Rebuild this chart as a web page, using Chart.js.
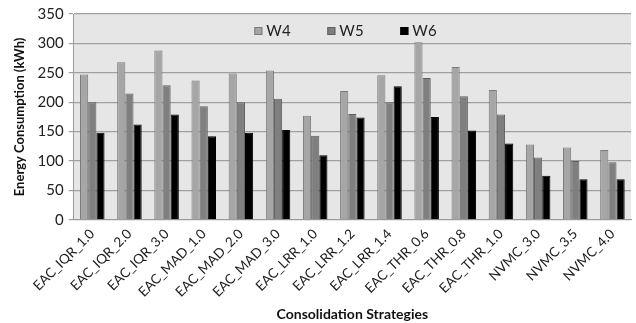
<!DOCTYPE html>
<html>
<head>
<meta charset="utf-8">
<script src="https://cdn.jsdelivr.net/npm/chart.js@4/dist/chart.umd.min.js"></script>
<style>
  html, body { margin: 0; padding: 0; background: #ffffff; }
  #wrap { width: 636px; height: 323px; }
</style>
</head>
<body>
<div id="wrap"><canvas id="c"></canvas></div>
<script>
const categories = [
  "EAC_IQR_1.0", "EAC_IQR_2.0", "EAC_IQR_3.0",
  "EAC_MAD_1.0", "EAC_MAD_2.0", "EAC_MAD_3.0",
  "EAC_LRR_1.0", "EAC_LRR_1.2", "EAC_LRR_1.4",
  "EAC_THR_0.6", "EAC_THR_0.8", "EAC_THR_1.0",
  "NVMC_3.0", "NVMC_3.5", "NVMC_4.0"
];
const w4 = [247, 268, 288, 237, 249, 254, 177, 219, 246, 302, 260, 221, 128, 123, 119];
const w5 = [200, 215, 229, 193, 200, 206, 143, 180, 200, 241, 210, 179, 106, 100, 98];
const w6 = [148, 162, 179, 142, 148, 153, 110, 174, 227, 175, 152, 130, 75, 69, 69];
const yTicks = [0, 50, 100, 150, 200, 250, 300, 350];

const font = "Lato, 'Open Sans', 'Liberation Sans', sans-serif";

// grey panel behind the plot area
const plotBackground = {
  id: 'plotBackground',
  beforeDraw(chart) {
    const { ctx, chartArea: a } = chart;
    ctx.save();
    ctx.fillStyle = '#e6e6e6';
    ctx.fillRect(a.left, a.top, a.right - a.left, a.bottom - a.top);
    ctx.restore();
  }
};

// horizontal legend drawn inside the top band of the plot
const insideLegend = {
  id: 'insideLegend',
  afterDatasetsDraw(chart) {
    const { ctx, chartArea: a } = chart;
    const sets = chart.data.datasets;
    const step = 73;
    const startX = (a.left + a.right) / 2 - 98;
    const cy = a.top + 17;
    ctx.save();
    ctx.font = '15px ' + font;
    ctx.textBaseline = 'middle';
    sets.forEach((ds, i) => {
      const x = startX + i * step;
      ctx.fillStyle = ds.backgroundColor;
      ctx.fillRect(x, cy - 4, 8, 8);
      ctx.strokeStyle = ds.borderColor;
      ctx.lineWidth = 1;
      ctx.strokeRect(x + 0.5, cy - 3.5, 7, 7);
      ctx.fillStyle = '#222';
      ctx.fillText(ds.label, x + 12, cy + 0.5);
    });
    ctx.restore();
  }
};

new Chart(document.getElementById('c'), {
  type: 'bar',
  data: {
    labels: categories,
    datasets: [
      { label: 'W4', data: w4, backgroundColor: '#a6a6a6', borderColor: '#7a7a7a', borderWidth: 1 },
      { label: 'W5', data: w5, backgroundColor: '#7f7f7f', borderColor: '#606060', borderWidth: 1 },
      { label: 'W6', data: w6, backgroundColor: '#000000', borderColor: '#000000', borderWidth: 1 }
    ]
  },
  options: {
    responsive: true,
    maintainAspectRatio: false,
    animation: false,
    layout: { padding: { top: 6, right: 5, left: 12, bottom: 0 } },
    datasets: { bar: { categoryPercentage: 0.66, barPercentage: 1.0 } },
    plugins: {
      legend: { display: false },
      tooltip: { enabled: false }
    },
    scales: {
      x: {
        grid: { display: false, drawTicks: false },
        border: { color: '#9a9a9a', width: 1 },
        ticks: {
          color: '#222',
          minRotation: 45,
          maxRotation: 45,
          padding: 6,
          font: { family: font, size: 13.5 }
        },
        title: {
          display: true,
          text: 'Consolidation Strategies',
          color: '#111',
          padding: { top: 0, bottom: 0 },
          font: { family: font, size: 14, weight: 'bold' }
        }
      },
      y: {
        min: 0,
        max: 350,
        afterBuildTicks(axis) { axis.ticks = yTicks.map(v => ({ value: v })); },
        grid: { color: '#a0a0a0', lineWidth: 1.2, tickLength: 5, tickColor: '#a0a0a0' },
        border: { color: '#9a9a9a', width: 1 },
        ticks: {
          color: '#222',
          padding: 5,
          font: { family: font, size: 15 }
        },
        title: {
          display: true,
          text: 'Energy Consumption (kWh)',
          color: '#111',
          padding: { top: 0, bottom: 5 },
          font: { family: font, size: 13, weight: 'bold' }
        }
      }
    }
  },
  plugins: [plotBackground, insideLegend]
});
</script>
</body>
</html>
